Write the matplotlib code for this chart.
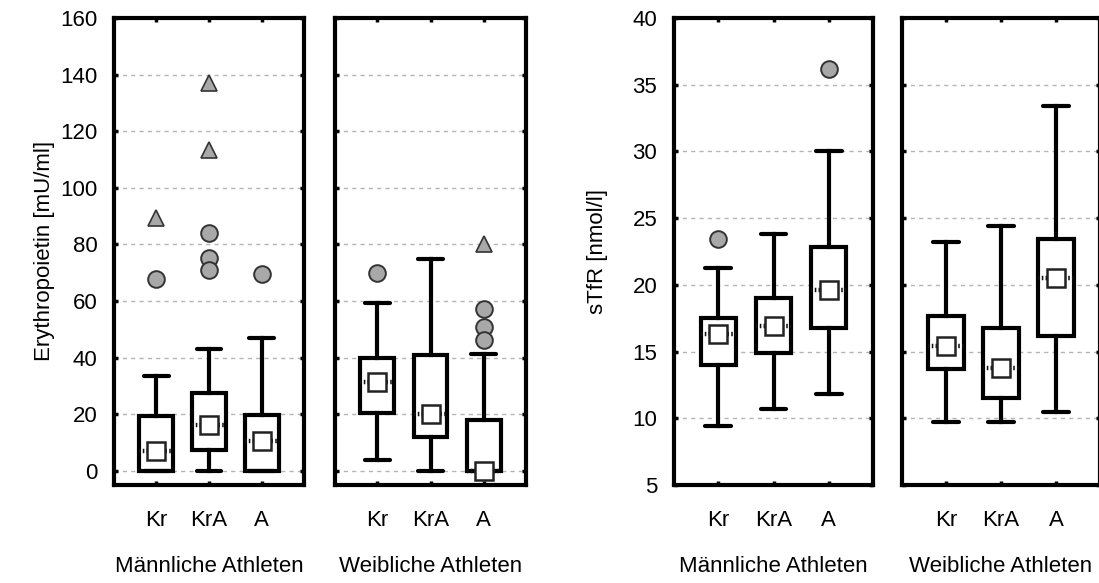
import matplotlib
matplotlib.use("Agg")
import matplotlib.pyplot as plt

plt.rcParams["font.family"] = ["Liberation Sans", "DejaVu Sans"]
plt.rcParams["font.size"] = 16

groups = ["Kr", "KrA", "A"]
positions = [1, 2, 3]

# Erythropoietin [mU/ml]
epo_male_med = [7.0, 16.2, 10.4]
epo_male_q1 = [0.0, 7.3, 0.0]
epo_male_q3 = [19.3, 27.6, 19.8]
epo_male_lo = [0.0, 0.0, 0.0]
epo_male_hi = [33.4, 43.2, 46.8]
epo_male_out = [[67.9], [84.1, 75.3, 70.9], [69.4]]
epo_male_ext = [[89.5], [137.0, 113.5], []]

epo_female_med = [31.5, 20.2, 0.0]
epo_female_q1 = [20.6, 11.8, 0.0]
epo_female_q3 = [39.7, 40.9, 17.9]
epo_female_lo = [3.9, 0.0, 0.0]
epo_female_hi = [59.2, 74.9, 41.2]
epo_female_out = [[70.0], [], [57.3, 50.8, 46.1]]
epo_female_ext = [[], [], [80.0]]

# sTfR [nmol/l]
stfr_male_med = [16.3, 16.9, 19.6]
stfr_male_q1 = [14.0, 14.9, 16.8]
stfr_male_q3 = [17.5, 19.0, 22.8]
stfr_male_lo = [9.4, 10.7, 11.8]
stfr_male_hi = [21.3, 23.8, 30.0]
stfr_male_out = [[23.4], [], [36.2]]
stfr_male_ext = [[], [], []]

stfr_female_med = [15.4, 13.8, 20.5]
stfr_female_q1 = [13.7, 11.5, 16.2]
stfr_female_q3 = [17.7, 16.8, 23.4]
stfr_female_lo = [9.7, 9.7, 10.5]
stfr_female_hi = [23.2, 24.4, 33.4]
stfr_female_out = [[], [], []]
stfr_female_ext = [[], [], []]

FLIER_GRAY = "#a8a8a8"


def make_stats(med, q1, q3, lo, hi):
    return [
        dict(med=m, q1=a, q3=b, whislo=l, whishi=h, fliers=[], label=g)
        for m, a, b, l, h, g in zip(med, q1, q3, lo, hi, groups)
    ]


def draw_panel(ax, stats, med, out, ext, ylim, yticks, group_label, show_ylabels):
    ax.set_xlim(0.2, 3.8)
    ax.set_ylim(*ylim)
    ax.set_yticks(yticks)
    for y in yticks:
        if ylim[0] < y < ylim[1]:
            ax.axhline(y, color="#b5b5b5", lw=1.0, dashes=(3, 3), zorder=0)

    ax.bxp(
        stats, positions=positions, widths=0.64, patch_artist=True,
        showfliers=False, manage_ticks=False,
        boxprops=dict(facecolor="white", edgecolor="black", linewidth=3),
        whiskerprops=dict(color="black", linewidth=3),
        capprops=dict(color="black", linewidth=3, solid_capstyle="round"),
        capwidths=0.47,
        medianprops=dict(color="#111111", linewidth=3.2, dashes=(0.35, 0.5)),
    )
    # median square on top of the dotted median line
    ax.plot(positions, med, ls="none", marker="s", ms=12.5, mfc="white",
            mec="#222222", mew=1.8, zorder=5, clip_on=False)

    for x, vals in zip(positions, out):
        if vals:
            ax.plot([x] * len(vals), vals, ls="none", marker="o", ms=12,
                    mfc=FLIER_GRAY, mec="#333333", mew=1.4, zorder=5)
    for x, vals in zip(positions, ext):
        if vals:
            ax.plot([x] * len(vals), vals, ls="none", marker="^", ms=11,
                    mfc=FLIER_GRAY, mec="#333333", mew=1.2, zorder=5)

    ax.set_xticks(positions)
    ax.set_xticklabels(groups)
    ax.set_xlabel(group_label, labelpad=18)
    ax.tick_params(axis="both", direction="in", length=3, width=2.5,
                   top=True, right=True)
    ax.tick_params(axis="x", pad=18)
    if not show_ylabels:
        ax.tick_params(axis="y", labelleft=False)
    else:
        ax.tick_params(axis="y", pad=12)
    for sp in ax.spines.values():
        sp.set_linewidth(3)
        sp.set_color("black")


W, H = 1099, 583
fig = plt.figure(figsize=(W / 100, H / 100), dpi=100)


def add_axes(x0, x1, y_top=18, y_bot=485):
    return fig.add_axes([x0 / W, (H - y_bot) / H, (x1 - x0) / W, (y_bot - y_top) / H])


ax1 = add_axes(114, 304)
ax2 = add_axes(335, 526)
ax3 = add_axes(674, 873)
ax4 = add_axes(902, 1100)

epo_ticks = list(range(0, 161, 20))
stfr_ticks = list(range(5, 41, 5))

draw_panel(ax1, make_stats(epo_male_med, epo_male_q1, epo_male_q3, epo_male_lo, epo_male_hi),
           epo_male_med, epo_male_out, epo_male_ext, (-5, 160), epo_ticks,
           "Männliche Athleten", True)
draw_panel(ax2, make_stats(epo_female_med, epo_female_q1, epo_female_q3, epo_female_lo, epo_female_hi),
           epo_female_med, epo_female_out, epo_female_ext, (-5, 160), epo_ticks,
           "Weibliche Athleten", False)
draw_panel(ax3, make_stats(stfr_male_med, stfr_male_q1, stfr_male_q3, stfr_male_lo, stfr_male_hi),
           stfr_male_med, stfr_male_out, stfr_male_ext, (5, 40), stfr_ticks,
           "Männliche Athleten", True)
draw_panel(ax4, make_stats(stfr_female_med, stfr_female_q1, stfr_female_q3, stfr_female_lo, stfr_female_hi),
           stfr_female_med, stfr_female_out, stfr_female_ext, (5, 40), stfr_ticks,
           "Weibliche Athleten", False)

fig.text(45 / W, 1 - 251 / H, "Erythropoietin [mU/ml]", rotation=90,
         ha="center", va="center")
fig.text(598 / W, 1 - 251 / H, "sTfR [nmol/l]", rotation=90,
         ha="center", va="center")

fig.savefig("out.png", dpi=100)
